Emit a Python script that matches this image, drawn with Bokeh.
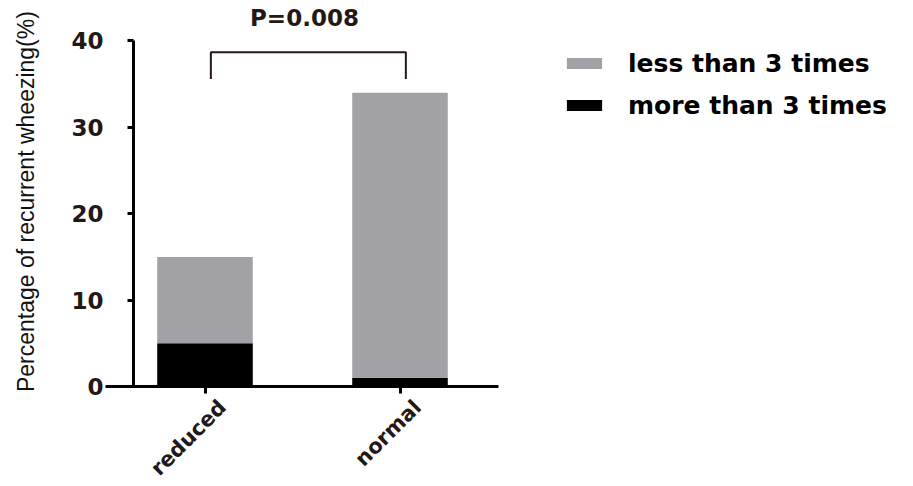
import math
from bokeh.plotting import figure
from bokeh.models import ColumnDataSource, FixedTicker, Legend, LegendItem, Label
from bokeh.core.properties import value
from bokeh.embed import file_html
from bokeh.resources import INLINE

# ---- data ----
categories = ["reduced", "normal"]
more_than_3 = [5, 1]        # black segment (%)
less_than_3 = [10, 33]      # grey segment stacked on top (%)
series_labels = ["less than 3 times", "more than 3 times"]
y_ticks = [0, 10, 20, 30, 40]
p_value_text = "P=0.008"
bracket_top = 38.7
bracket_bottom = 35.6
y_label = "Percentage of recurrent wheezing(%)"

# ---- style ----
GRAY = "#A2A1A6"
BLACK = "#000000"
INK = "#231815"
BOLD_FONT = "DejaVu Sans"

W, H = 905, 482
# pixel geometry of the plotting area -> data ranges
PX_PER_CAT = 195.0
X0_PX = 204.5            # pixel of first category
PX_PER_UNIT = 8.64       # pixels per percent
Y0_PX = 386.0            # pixel of y = 0

x_start = -X0_PX / PX_PER_CAT
x_end = (W - X0_PX) / PX_PER_CAT
y_end = Y0_PX / PX_PER_UNIT
y_start = -(H - Y0_PX) / PX_PER_UNIT

x_pos = list(range(len(categories)))
src = ColumnDataSource(dict(x=x_pos, more=more_than_3, less=less_than_3))

p = figure(width=W, height=H,
           x_range=(x_start, x_end), y_range=(y_start, y_end),
           output_backend="svg", toolbar_location=None,
           min_border_left=0, min_border_top=0, min_border_right=0,
           min_border_bottom=0)
p.outline_line_color = None
p.xgrid.visible = False
p.ygrid.visible = False
p.background_fill_color = "white"
p.border_fill_color = "white"

rs = p.vbar_stack(["more", "less"], x="x", width=0.49, source=src,
                  fill_color=[BLACK, GRAY], line_color=None)

# significance bracket
d = 0.03
bx = [x_pos[0] + d, x_pos[0] + d, x_pos[1] + d, x_pos[1] + d]
by = [bracket_bottom, bracket_top, bracket_top, bracket_bottom]
p.line(bx, by, line_width=2, line_color=INK)
p.text(x=[(x_pos[0] + x_pos[1]) / 2 + 0.01], y=[42.6], text=[p_value_text],
       text_align="center", text_baseline="middle",
       text_font=value(BOLD_FONT), text_font_style="bold",
       text_font_size="23px", text_color=INK)

# y axis
yax = p.yaxis[0]
yax.fixed_location = -0.367
yax.bounds = (0, 40)
yax.ticker = FixedTicker(ticks=y_ticks)
yax.minor_tick_line_color = None
yax.axis_line_width = 3
yax.axis_line_color = BLACK
yax.major_tick_line_width = 3
yax.major_tick_line_color = BLACK
yax.major_tick_out = 6
yax.major_tick_in = 0
yax.major_label_standoff = 24
yax.major_label_text_font = BOLD_FONT
yax.major_label_text_font_style = "bold"
yax.major_label_text_font_size = "23px"
yax.major_label_text_color = INK

p.add_layout(Label(x=-0.92, y=21.4, text=y_label, angle=math.pi / 2,
                   text_align="center", text_baseline="alphabetic",
                   text_font="Liberation Sans", text_font_size="23px",
                   text_color="#111111"))

# x axis
xax = p.xaxis[0]
xax.fixed_location = 0
xax.bounds = (-0.51, 1.505)
xax.ticker = FixedTicker(ticks=x_pos)
xax.major_label_overrides = {i: "" for i in x_pos}
xax.minor_tick_line_color = None
xax.axis_line_width = 3
xax.axis_line_color = BLACK
xax.major_tick_line_width = 3
xax.major_tick_line_color = BLACK
xax.major_tick_out = 7
xax.major_tick_in = 0

# category labels, rotated 45 degrees
p.text(x=[xp + 0.09 for xp in x_pos], y=[-2.0] * len(x_pos), text=categories,
       angle=math.pi / 4, text_align="right", text_baseline="middle",
       text_font=value(BOLD_FONT), text_font_style="bold",
       text_font_size="21px", text_color=INK)

legend = Legend(items=[LegendItem(label=series_labels[0], renderers=[rs[1]]),
                       LegendItem(label=series_labels[1], renderers=[rs[0]])],
                location=(562, 362), margin=0, padding=0,
                border_line_color=None, background_fill_alpha=0,
                glyph_width=44, glyph_height=14, label_height=30,
                label_standoff=22, spacing=12,
                label_text_font=BOLD_FONT, label_text_font_style="bold",
                label_text_font_size="25px", label_text_color=BLACK)
p.add_layout(legend)

open("out.html", "w").write(file_html(p, INLINE))
